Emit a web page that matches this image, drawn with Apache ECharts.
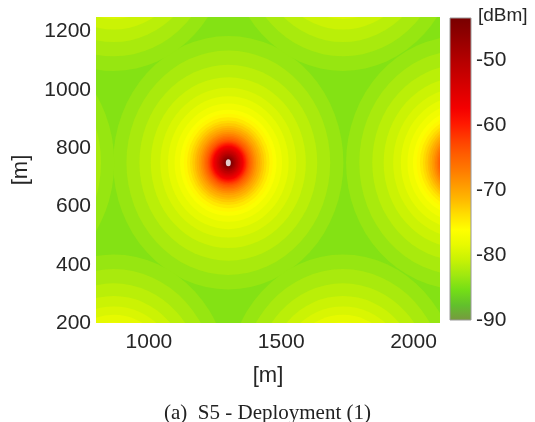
<!DOCTYPE html>
<html>
<head>
<meta charset="utf-8">
<script src="https://cdn.jsdelivr.net/npm/echarts@6/dist/echarts.min.js"></script>
<style>
html, body { margin: 0; padding: 0; background: #fff; }
#main { width: 535px; height: 422px; }
</style>
</head>
<body>
<div id="main"></div>
<script>
// base stations (m); only the first one falls inside the plot
var sites = [[1300, 750], [2180, 750], [434, 750], [867, 0], [1733, 0], [867, 1500], [1733, 1500]];

// filled contour levels (dBm) and the distance from a site (m) where each level is reached
var levels = [-84, -83, -82, -81, -80, -79, -78, -77, -76, -75, -74, -73, -72, -71, -70, -69, -68,
              -67, -66, -65, -64, -63, -62, -61, -60, -59, -58, -57, -56, -55, -54, -53, -52, -51,
              -50, -49, -48, -47, -46, -45, -44];
var radii = [435, 385, 336, 293, 257, 228, 203, 182, 168, 156, 145, 136, 127, 120, 112, 105, 99,
             93, 88, 83, 78, 74, 70, 67, 63, 60, 57, 54, 50, 46, 43, 39, 36, 32,
             29, 25, 22, 19, 16, 12, 9];

var cbMin = -90, cbMax = -43.5;
var cbColors = ['#789840', '#62c02c', '#74de16', '#a0e810', '#c8f204', '#e8fa00', '#ffff00',
                '#ffde00', '#ffb800', '#ff9800', '#ff7800', '#ff5c00', '#ff3c00', '#ff1800',
                '#f40000', '#e00000', '#cc0000', '#b80000', '#a20000', '#8c0000', '#780000'];

// each band is drawn as an ellipse around every site, lowest level first
var rings = [];
levels.forEach(function (lv, i) {
    sites.forEach(function (s) {
        rings.push([s[0], s[1], lv + 0.5, radii[i]]);
    });
});

var myChart = echarts.init(document.getElementById('main'));

var labelFont = { fontFamily: 'Liberation Sans', fontSize: 21, color: '#262626' };
var nameFont = { fontFamily: 'Liberation Sans', fontSize: 22, color: '#262626' };

var option = {
    animation: false,
    title: {
        text: '(a)  S5 - Deployment (1)',
        left: 'center',
        top: 398,
        textStyle: { fontFamily: 'Liberation Serif', fontSize: 21, fontWeight: 'normal', color: '#222' }
    },
    graphic: [{
        type: 'text',
        left: 478,
        top: 6,
        style: { text: '[dBm]', font: '19px "Liberation Sans"', fill: '#262626' }
    }],
    visualMap: [{
        show: false,
        type: 'continuous',
        seriesIndex: [0],
        dimension: 2,
        min: cbMin,
        max: cbMax,
        inRange: { color: cbColors }
    }],
    grid: [
        { left: 96, top: 17, width: 344, height: 306, show: true, backgroundColor: '#84e214', borderWidth: 0 },
        { left: 450, top: 18, width: 21, height: 302 }
    ],
    xAxis: [{
        gridIndex: 0,
        type: 'value',
        min: 800,
        max: 2100,
        interval: 100,
        name: '[m]',
        nameLocation: 'middle',
        nameGap: 42,
        nameTextStyle: nameFont,
        axisLine: { show: false },
        axisTick: { show: false },
        splitLine: { show: false },
        axisLabel: Object.assign({
            margin: 9,
            formatter: function (v) { return v % 500 === 0 ? String(v) : ''; }
        }, labelFont)
    }, {
        gridIndex: 1,
        type: 'value',
        min: 0,
        max: 1,
        show: false
    }],
    yAxis: [{
        gridIndex: 0,
        type: 'value',
        min: 200,
        max: 1250,
        interval: 50,
        name: '[m]',
        nameLocation: 'middle',
        nameGap: 64,
        nameTextStyle: nameFont,
        axisLine: { show: false },
        axisTick: { show: false },
        splitLine: { show: false },
        axisLabel: Object.assign({
            margin: 5,
            padding: [6, 0, 0, 0],
            formatter: function (v) { return v % 200 === 0 ? String(v) : ''; }
        }, labelFont)
    }, {
        gridIndex: 1,
        type: 'value',
        position: 'right',
        min: cbMin,
        max: cbMax,
        interval: 10,
        axisLine: { show: false },
        axisTick: { show: false },
        splitLine: { show: false },
        axisLabel: Object.assign({ margin: 5, showMaxLabel: false }, labelFont)
    }],
    series: [{
        type: 'custom',
        xAxisIndex: 0,
        yAxisIndex: 0,
        clip: true,
        data: rings,
        renderItem: function (params, api) {
            var c = api.coord([api.value(0), api.value(1)]);
            var s = api.size([api.value(3), api.value(3)], [api.value(0), api.value(1)]);
            return {
                type: 'circle',
                x: c[0],
                y: c[1],
                scaleY: s[1] / s[0],
                z2: params.dataIndex,
                shape: { cx: 0, cy: 0, r: s[0] },
                style: { fill: api.visual('color') }
            };
        }
    }, {
        type: 'scatter',
        xAxisIndex: 0,
        yAxisIndex: 0,
        data: sites,
        symbol: 'circle',
        symbolSize: [5, 7],
        itemStyle: { color: '#ffffff' },
        z: 5
    }, {
        // colour bar
        type: 'custom',
        xAxisIndex: 1,
        yAxisIndex: 1,
        data: [[0, cbMin, 1, cbMax]],
        renderItem: function (params, api) {
            var pTop = api.coord([api.value(0), api.value(3)]);
            var pBot = api.coord([api.value(2), api.value(1)]);
            var stops = cbColors.map(function (c, i) {
                return { offset: 1 - i / (cbColors.length - 1), color: c };
            }).reverse();
            return {
                type: 'rect',
                shape: { x: pTop[0], y: pTop[1], width: pBot[0] - pTop[0], height: pBot[1] - pTop[1] },
                style: {
                    fill: new echarts.graphic.LinearGradient(0, 0, 0, 1, stops),
                    stroke: '#9a9a9a',
                    lineWidth: 1
                }
            };
        }
    }]
};

myChart.setOption(option);
</script>
</body>
</html>
